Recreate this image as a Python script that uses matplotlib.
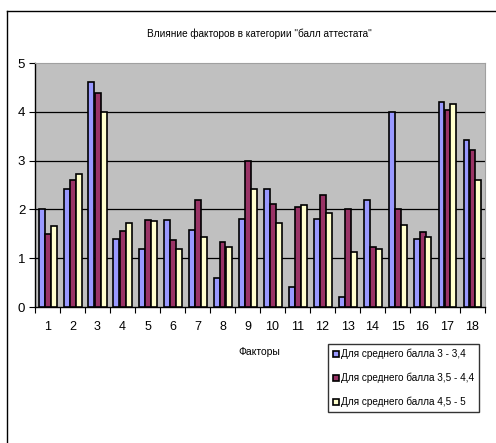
import matplotlib
matplotlib.use("Agg")
import matplotlib.pyplot as plt
import numpy as np
from matplotlib.lines import Line2D

# Factor numbers on the x axis
factors = [str(i) for i in range(1, 19)]

# Mean scores per factor for each attestat grade group
group_3_34 = [2.0, 2.41, 4.61, 1.4, 1.18, 1.79, 1.58, 0.6, 1.8,
              2.41, 0.4, 1.8, 0.2, 2.19, 4.0, 1.39, 4.21, 3.42]
group_35_44 = [1.5, 2.6, 4.39, 1.55, 1.79, 1.37, 2.19, 1.33, 3.0,
               2.12, 2.05, 2.3, 2.0, 1.22, 2.0, 1.54, 4.03, 3.21]
group_45_5 = [1.65, 2.73, 4.0, 1.73, 1.76, 1.18, 1.43, 1.22, 2.41,
              1.73, 2.08, 1.93, 1.12, 1.18, 1.69, 1.43, 4.15, 2.6]

series_labels = ["Для среднего балла 3 - 3,4",
                 "Для среднего балла 3,5 - 4,4",
                 "Для среднего балла 4,5 - 5"]
series_colors = ["#9999FF", "#993366", "#FFFFCC"]
title_text = 'Влияние факторов в категории "балл аттестата"'
xlabel_text = "Факторы"

plt.rcParams["font.family"] = ["Liberation Sans", "DejaVu Sans"]

W, H = 496, 443
fig = plt.figure(figsize=(W / 100, H / 100), dpi=100)
fig.patch.set_facecolor("white")

# Outer chart frame (left and top edges)
fig.add_artist(Line2D([7 / W, 7 / W], [0, 1 - 11 / H], color="black", lw=1.0,
                      transform=fig.transFigure))
fig.add_artist(Line2D([7 / W, 1], [1 - 11 / H, 1 - 11 / H], color="black", lw=1.0,
                      transform=fig.transFigure))

ax = fig.add_axes([35 / W, 1 - 307 / H, 450 / W, 244 / H])
ax.set_facecolor("#C0C0C0")

x = np.arange(1, len(factors) + 1)
bw = 0.24
for i, (vals, col, lab) in enumerate(zip([group_3_34, group_35_44, group_45_5],
                                         series_colors, series_labels)):
    ax.bar(x + (i - 1) * bw, vals, width=bw, color=col, edgecolor="black",
           linewidth=1.2, label=lab, zorder=3)

ax.set_xlim(0.5, len(factors) + 0.5)
ax.set_ylim(0, 5)
ax.set_yticks(range(0, 6))
ax.set_yticklabels([str(v) for v in range(0, 6)], fontsize=9.5)
for y in range(1, 5):
    ax.axhline(y, color="black", lw=0.9, zorder=1)

ax.set_xticks(x)
ax.set_xticklabels(factors, fontsize=9)
ax.set_xticks(np.arange(0.5, len(factors) + 1), minor=True)
ax.tick_params(axis="x", which="major", length=0, pad=10)
ax.tick_params(axis="x", which="minor", length=4, direction="out", width=0.8)
ax.tick_params(axis="y", length=4, direction="out", width=0.8, pad=3)

for side in ["top", "right"]:
    ax.spines[side].set_color("#A0A0A0")
    ax.spines[side].set_linewidth(0.8)
for side in ["left", "bottom"]:
    ax.spines[side].set_color("black")
    ax.spines[side].set_linewidth(1.0)

fig.text(259 / W, 1 - 34 / H, title_text, ha="center", va="center", fontsize=7.2)
fig.text(259 / W, 1 - 352 / H, xlabel_text, ha="center", va="center", fontsize=7.5)

leg = fig.legend(loc="upper left", bbox_to_anchor=(328 / W, 1 - 344 / H),
                 frameon=True, fontsize=7.2, handlelength=0.55, handleheight=0.55,
                 handletextpad=0.25, borderpad=0.5, labelspacing=1.35,
                 fancybox=False, borderaxespad=0)
leg.get_frame().set_edgecolor("black")
leg.get_frame().set_linewidth(1.0)

fig.savefig("out.png", dpi=100)
